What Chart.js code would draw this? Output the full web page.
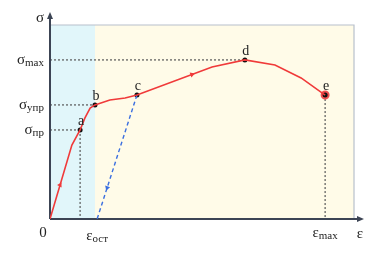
<!DOCTYPE html>
<html>
<head>
<meta charset="utf-8">
<script src="https://cdn.jsdelivr.net/npm/chart.js@4/dist/chart.umd.min.js"></script>
<style>
  html, body { margin: 0; padding: 0; background: #fff; }
  #wrap { width: 375px; height: 260px; }
</style>
</head>
<body>
<div id="wrap"><canvas id="chart" width="375" height="260"></canvas></div>
<script>
// loading curve (strain, stress), relative units 0..100
const curveStrain = [0, 7.2, 9.9, 11.5, 13.2, 14.8, 19.7, 24.7, 28.6, 53.3, 64.1, 74.0, 82.6, 90.5];
const curveStress = [0, 38.1, 45.9, 52.1, 57.2, 58.8, 61.3, 62.4, 63.9, 78.4, 82.0, 79.4, 72.7, 63.9];

// unloading from c
const unloadStrain = [28.6, 15.5];
const unloadStress = [63.9, 0];

// key points
const keyNames = ["a", "b", "c", "d", "e"];
const keyStrain = [9.9, 14.8, 28.6, 64.1, 90.5];
const keyStress = [45.9, 58.8, 63.9, 82.0, 63.9];

// direction arrows on the lines
const arrowStrain = [3.3, 46.7];
const arrowStress = [17.5, 74.5];
const arrowAngle = [29, 70];
const backArrowStrain = [18.8];
const backArrowStress = [16.1];

// axis labels: [main, subscript, value]
const stressTicks = [["σ", "max", 82.0], ["σ", "упр", 58.8], ["σ", "пр", 45.9]];
const strainTicks = [["0", "", 0], ["ε", "ост", 15.5], ["ε", "max", 90.5]];

const elasticEnd = 14.8;

const toXY = (xs, ys) => xs.map((x, i) => ({ x: x, y: ys[i] }));

const serif = '"Liberation Serif", "DejaVu Serif", serif';

function subText(ctx, main, sub, x, y, align) {
  ctx.font = "15px " + serif;
  const w1 = ctx.measureText(main).width;
  ctx.font = "11px " + serif;
  const w2 = ctx.measureText(sub).width;
  let start = x;
  if (align === "right") start = x - w1 - w2;
  if (align === "center") start = x - (w1 + w2) / 2;
  ctx.textAlign = "left";
  ctx.textBaseline = "middle";
  ctx.font = "15px " + serif;
  ctx.fillText(main, start, y);
  ctx.font = "11px " + serif;
  ctx.fillText(sub, start + w1, y + 3);
}

const diagramPlugin = {
  id: "diagram",
  beforeDatasetsDraw(chart) {
    const { ctx, chartArea: a, scales } = chart;
    const sx = scales.x, sy = scales.y;
    const xe = sx.getPixelForValue(elasticEnd);
    ctx.save();
    // zones
    ctx.fillStyle = "#e1f6fa";
    ctx.fillRect(a.left, a.top, xe - a.left, a.bottom - a.top);
    ctx.fillStyle = "#fffbe8";
    ctx.fillRect(xe, a.top, a.right - xe, a.bottom - a.top);
    // frame top/right
    ctx.strokeStyle = "#b8c0cc";
    ctx.lineWidth = 1.2;
    ctx.beginPath();
    ctx.moveTo(a.left, a.top);
    ctx.lineTo(a.right, a.top);
    ctx.lineTo(a.right, a.bottom);
    ctx.stroke();
    // dotted guides
    ctx.strokeStyle = "#555";
    ctx.lineWidth = 1.2;
    ctx.setLineDash([2, 2]);
    const guide = (x1, y1, x2, y2) => {
      ctx.beginPath();
      ctx.moveTo(sx.getPixelForValue(x1), sy.getPixelForValue(y1));
      ctx.lineTo(sx.getPixelForValue(x2), sy.getPixelForValue(y2));
      ctx.stroke();
    };
    guide(0, keyStress[3], keyStrain[3], keyStress[3]);
    guide(0, keyStress[1], keyStrain[1], keyStress[1]);
    guide(0, keyStress[0], keyStrain[0], keyStress[0]);
    guide(keyStrain[0], keyStress[0], keyStrain[0], 0);
    guide(keyStrain[4], keyStress[4], keyStrain[4], 0);
    ctx.setLineDash([]);
    // axes with arrows
    ctx.strokeStyle = "#3c4454";
    ctx.fillStyle = "#3c4454";
    ctx.lineWidth = 2;
    ctx.beginPath();
    ctx.moveTo(a.left, a.bottom);
    ctx.lineTo(a.left, a.top - 9);
    ctx.moveTo(a.left, a.bottom);
    ctx.lineTo(a.right + 6, a.bottom);
    ctx.stroke();
    ctx.beginPath();
    ctx.moveTo(a.left, a.top - 13);
    ctx.lineTo(a.left - 3, a.top - 6);
    ctx.lineTo(a.left + 3, a.top - 6);
    ctx.closePath();
    ctx.fill();
    ctx.beginPath();
    ctx.moveTo(a.right + 10, a.bottom);
    ctx.lineTo(a.right + 3, a.bottom - 3);
    ctx.lineTo(a.right + 3, a.bottom + 3);
    ctx.closePath();
    ctx.fill();
    ctx.restore();
  },
  afterDatasetsDraw(chart) {
    const { ctx, chartArea: a, scales } = chart;
    const sx = scales.x, sy = scales.y;
    ctx.save();
    ctx.fillStyle = "#222";
    // point letters
    ctx.font = "14px " + serif;
    ctx.textAlign = "center";
    ctx.textBaseline = "alphabetic";
    keyNames.forEach((n, i) => {
      ctx.fillText(n, sx.getPixelForValue(keyStrain[i]) + 1, sy.getPixelForValue(keyStress[i]) - 5);
    });
    // axis names
    subText(ctx, "σ", "", a.left - 6, a.top - 7, "right");
    subText(ctx, "ε", "", a.right + 6, a.bottom + 15, "center");
    stressTicks.forEach(t => subText(ctx, t[0], t[1], a.left - 6, sy.getPixelForValue(t[2]), "right"));
    strainTicks.forEach(t => subText(ctx, t[0], t[1], sx.getPixelForValue(t[2]) + (t[1] ? 0 : -7), a.bottom + (t[1] === "ост" ? 17 : 14), "center"));
    ctx.restore();
  }
};

new Chart(document.getElementById("chart"), {
  type: "scatter",
  data: {
    datasets: [
      {
        data: toXY(curveStrain, curveStress),
        showLine: true,
        borderColor: "#f03a3a",
        borderWidth: 1.6,
        pointRadius: 0,
        tension: 0
      },
      {
        data: toXY(unloadStrain, unloadStress),
        showLine: true,
        borderColor: "#3b6fe0",
        borderWidth: 1.4,
        borderDash: [4, 3],
        pointRadius: 0
      },
      {
        data: toXY(arrowStrain, arrowStress),
        pointStyle: "triangle",
        pointRadius: 3,
        rotation: arrowAngle,
        backgroundColor: "#f03a3a",
        borderColor: "#f03a3a",
        borderWidth: 0
      },
      {
        data: toXY(backArrowStrain, backArrowStress),
        pointStyle: "triangle",
        pointRadius: 3,
        rotation: 198,
        backgroundColor: "#3b6fe0",
        borderColor: "#3b6fe0",
        borderWidth: 0
      },
      {
        data: toXY(keyStrain.slice(0, 4), keyStress.slice(0, 4)),
        pointRadius: 2.5,
        backgroundColor: "#111",
        borderColor: "#111",
        borderWidth: 0
      },
      {
        data: toXY(keyStrain.slice(4), keyStress.slice(4)),
        pointRadius: 3.5,
        backgroundColor: "#111",
        borderColor: "#f05050",
        borderWidth: 2
      }
    ]
  },
  options: {
    responsive: false,
    animation: false,
    layout: { padding: { left: 50, right: 21, top: 25, bottom: 41 } },
    plugins: {
      legend: { display: false },
      tooltip: { enabled: false }
    },
    scales: {
      x: { type: "linear", min: 0, max: 100, display: false },
      y: { type: "linear", min: 0, max: 100, display: false }
    }
  },
  plugins: [diagramPlugin]
});
</script>
</body>
</html>
